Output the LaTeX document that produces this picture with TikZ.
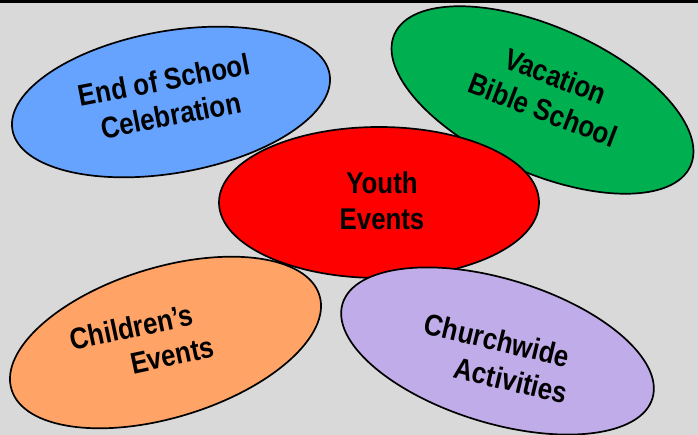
\documentclass[tikz,border=0pt]{standalone}
\usepackage{fontspec}
\newfontfamily\lbl[FakeStretch=0.86]{Liberation Sans}
\usetikzlibrary{shapes.geometric}
\definecolor{bgray}{RGB}{217,217,217}
\definecolor{cblue}{RGB}{102,163,255}
\definecolor{cgreen}{RGB}{0,176,80}
\definecolor{cred}{RGB}{255,0,0}
\definecolor{corange}{RGB}{255,163,102}
\definecolor{cpurple}{RGB}{193,172,234}
\tikzset{
  blob/.style={ellipse, draw=black, line width=1.7pt, inner sep=0pt},
  txt/.style={inner sep=0pt, align=center, font=\lbl\bfseries\fontsize{30}{36}\selectfont}
}
\begin{document}
\begin{tikzpicture}[x=1pt,y=-1pt]
\useasboundingbox (0,0) rectangle (698,435);
\fill[bgray] (0,0) rectangle (698,435);
\fill[black] (0,0) rectangle (698,3);
% ellipses
\node[blob, fill=cblue, minimum width=322pt, minimum height=142pt, rotate=10] (eos) at (171,102) {};
\node[blob, fill=cgreen, minimum width=324pt, minimum height=146pt, rotate=-24] (vbs) at (542.5,100) {};
\node[blob, fill=cred, minimum width=320pt, minimum height=151pt] (youth) at (379,202.5) {};
\node[blob, fill=corange, minimum width=322pt, minimum height=150pt, rotate=17] (child) at (165.5,342.5) {};
\node[blob, fill=cpurple, minimum width=324pt, minimum height=144pt, rotate=-17] (church) at (497.5,351) {};
% labels
\node[txt, rotate=11] (eosl) at (167.5,97.5) {End of School\\Celebration};
\node[txt, rotate=-21] (vbsl) at (549.5,93) {Vacation\\Bible School};
\node[txt] (youthl) at (382,201) {Youth\\Events};
\node[txt, rotate=12] (childl) at (135.2,344.6) {Children’s\\\hspace*{68pt}Events};
\node[txt, rotate=-13.5] (churchl) at (492.8,357.5) {Churchwide\\\hspace*{46pt}Activities};
\end{tikzpicture}
\end{document}
